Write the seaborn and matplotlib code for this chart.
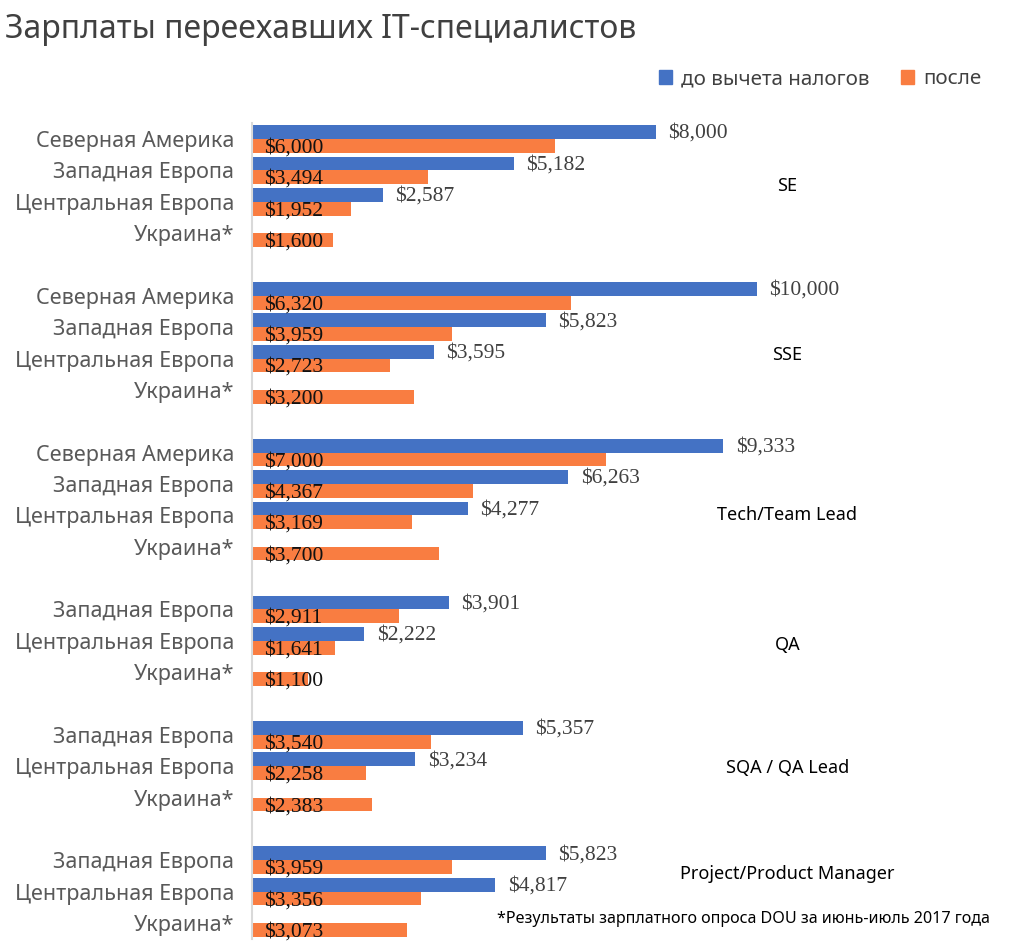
import matplotlib
matplotlib.use("Agg")
import matplotlib.pyplot as plt
import seaborn as sns
import pandas as pd
from matplotlib.patches import Patch

groups = ['SE', 'SSE', 'Tech/Team Lead', 'QA', 'SQA / QA Lead', 'Project/Product Manager']
regions = [
    ['Северная Америка', 'Западная Европа', 'Центральная Европа', 'Украина*'],
    ['Северная Америка', 'Западная Европа', 'Центральная Европа', 'Украина*'],
    ['Северная Америка', 'Западная Европа', 'Центральная Европа', 'Украина*'],
    ['Западная Европа', 'Центральная Европа', 'Украина*'],
    ['Западная Европа', 'Центральная Европа', 'Украина*'],
    ['Западная Европа', 'Центральная Европа', 'Украина*'],
]
before_tax = [
    [8000, 5182, 2587, None],
    [10000, 5823, 3595, None],
    [9333, 6263, 4277, None],
    [3901, 2222, None],
    [5357, 3234, None],
    [5823, 4817, None],
]
after_tax = [
    [6000, 3494, 1952, 1600],
    [6320, 3959, 2723, 3200],
    [7000, 4367, 3169, 3700],
    [2911, 1641, 1100],
    [3540, 2258, 2383],
    [3959, 3356, 3073],
]
series = ['до вычета налогов', 'после']
colors = ['#4472C4', '#F97D41']
# where each group's name sits, in rows from the group's first row
group_label_offset = [1.5, 1.9, 2.0, 1.15, 1.05, 0.45]

rows, order, ticklabels, group_start = [], [], [], []
for gi, g in enumerate(groups):
    if gi > 0:
        order.append(f'gap{gi}')
        ticklabels.append('')
    group_start.append(len(order))
    for r, b, a in zip(regions[gi], before_tax[gi], after_tax[gi]):
        key = f'{g}|{r}'
        order.append(key)
        ticklabels.append(r)
        if b is not None:
            rows.append({'row': key, 'type': series[0], 'value': b})
        rows.append({'row': key, 'type': series[1], 'value': a})
df = pd.DataFrame(rows)

W, H = 1011, 951
fig = plt.figure(figsize=(W / 100, H / 100), dpi=100)
ax = fig.add_axes([252 / W, 1 - 938.7 / H, (1009.5 - 252) / W, (938.7 - 123.3) / H])

sns.barplot(data=df, x='value', y='row', hue='type', order=order, hue_order=series,
            palette=colors, orient='h', width=0.88, dodge=True, saturation=1,
            legend=False, ax=ax)

ax.set_xlim(0, 15000)
ax.set_ylim(len(order) - 0.5, -0.5)
ax.set_xlabel('')
ax.set_ylabel('')
ax.set_xticks([])
ax.set_yticks(range(len(order)))
ax.set_yticklabels(ticklabels, fontsize=15.5, color='#595959', family='Noto Sans',
                   va='center_baseline')
ax.tick_params(axis='y', length=0, pad=13)
for s in ['top', 'right', 'bottom']:
    ax.spines[s].set_visible(False)
ax.spines['left'].set_color('#d9d9d9')
ax.spines['left'].set_linewidth(1.5)

# value labels
for ci, cont in enumerate(ax.containers):
    for p in cont.patches:
        v = p.get_width()
        if not v == v or v == 0:
            continue
        yc = p.get_y() + p.get_height() / 2
        if ci == 0:
            ax.annotate(f'${v:,.0f}', (v, yc), xytext=(9, -1), textcoords='offset points',
                        va='center', ha='left', fontsize=15.5, color='#404040',
                        family='Liberation Serif')
        else:
            ax.annotate(f'${v:,.0f}', (0, yc), xytext=(9, -1.5), textcoords='offset points',
                        va='center', ha='left', fontsize=15.5, color='#111111',
                        family='Liberation Serif')

# group labels
for g, st, off in zip(groups, group_start, group_label_offset):
    ax.text(10600, st + off, g, ha='center', va='center', fontsize=13, color='black',
            family='Noto Sans')

fig.text(5 / W, 1 - 30 / H, 'Зарплаты переехавших IT-специалистов', fontsize=23,
         color='#404040', family='Noto Sans', ha='left', va='center')

handles = [Patch(color=c) for c in colors]
fig.legend(handles, series, loc='center right', bbox_to_anchor=(1000 / W, 1 - 79 / H),
           ncol=2, frameon=False, handlelength=0.65, handleheight=0.65,
           handletextpad=0.45, columnspacing=1.5, labelcolor='#404040',
           prop={'family': 'Noto Sans', 'size': 14.8})

fig.text(990 / W, 1 - 919 / H, '*Результаты зарплатного опроса DOU за июнь-июль 2017 года',
         fontsize=11.6, color='black', family='Noto Sans', ha='right', va='center')

fig.savefig('out.png', dpi=100)
